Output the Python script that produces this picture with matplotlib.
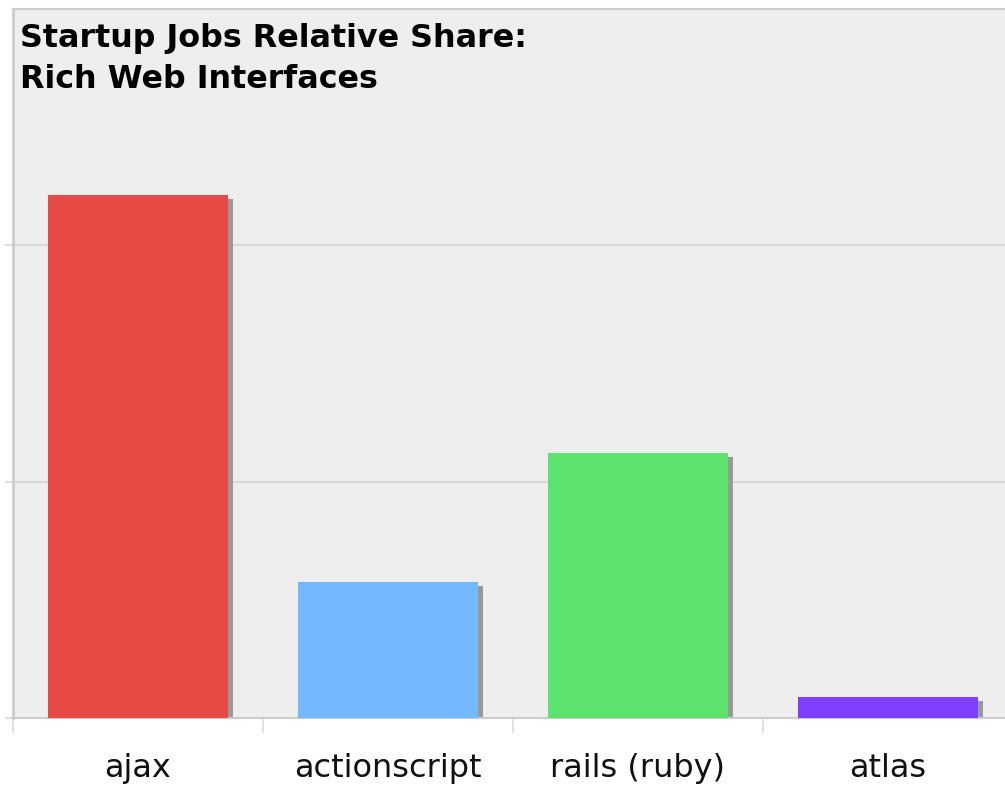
import matplotlib
matplotlib.use("Agg")
import matplotlib.pyplot as plt
from matplotlib.ticker import FixedLocator

categories = ["ajax", "actionscript", "rails (ruby)", "atlas"]
shares = [2.211, 0.576, 1.121, 0.091]
colors = ["#E74A44", "#74B9FF", "#5BE36E", "#7F3FFF"]
title_lines = ["Startup Jobs Relative Share:", "Rich Web Interfaces"]

W, H = 1005, 785
fig = plt.figure(figsize=(W / 100, H / 100), dpi=100)
fig.patch.set_facecolor("white")

left_px, right_px, top_px, bottom_px = 13, 1013, 8.5, 718.3
ax = fig.add_axes([left_px / W, 1 - bottom_px / H,
                   (right_px - left_px) / W, (bottom_px - top_px) / H])
ax.set_facecolor("#EEEEEE")
ax.set_xlim(-0.5, len(categories) - 0.5)
ax.set_ylim(0, 3)

# pixel -> data unit conversions for the drop shadow
px_x = 1.0 / 250.0
px_y = 3.0 / (bottom_px - top_px)

xs = list(range(len(categories)))
bar_w = 0.72

# drop shadows
ax.bar([x + 5 * px_x for x in xs], [v - 4 * px_y for v in shares],
       width=bar_w, color="#999999", zorder=2, linewidth=0)
# bars
ax.bar(xs, shares, width=bar_w, color=colors, zorder=3, linewidth=0)

# grid
for yv in [1, 2]:
    ax.axhline(yv, color="#D8D8D8", linewidth=1.5, zorder=1)

# spines
ax.spines["right"].set_visible(False)
ax.spines["top"].set_color("#CCCCCC")
ax.spines["top"].set_linewidth(1.5)
ax.spines["left"].set_color("#CCCCCC")
ax.spines["left"].set_linewidth(2)
ax.spines["bottom"].set_color("#CCCCCC")
ax.spines["bottom"].set_linewidth(1.5)

# category labels and boundary ticks
ax.set_xticks(xs)
ax.set_xticklabels(categories, fontsize=23, color="#111111")
ax.tick_params(axis="x", which="major", length=0, pad=25)
ax.xaxis.set_minor_locator(FixedLocator([-0.5, 0.5, 1.5, 2.5]))
ax.tick_params(axis="x", which="minor", length=11, width=1.2, color="#DDDDDD")

ax.set_yticks([0, 1, 2])
ax.set_yticklabels([])
ax.tick_params(axis="y", length=6, width=1.2, color="#D8D8D8")

# two-line title, placed by baseline
span = bottom_px - top_px
for line, base_px in zip(title_lines, [47, 88]):
    ax.text(7 / 1000, 1 - (base_px - top_px) / span, line,
            transform=ax.transAxes, fontsize=22.9, fontweight="bold",
            color="black", ha="left", va="baseline", zorder=5)

fig.savefig("out.png", dpi=100, facecolor="white")
